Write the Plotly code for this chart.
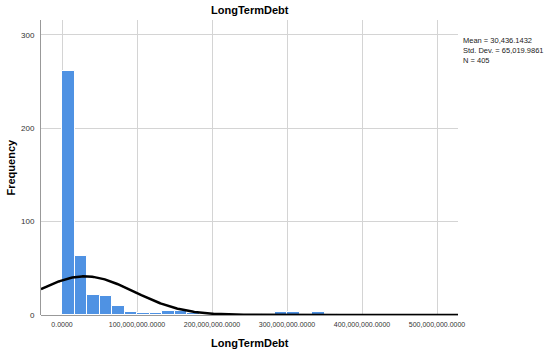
import numpy as np
import plotly.graph_objects as go

# ---- data ----
bin_width = 100_000_000 / 6          # SPSS bin width (~16.67M)
counts = [261, 63, 21, 20, 10, 3, 2, 2, 4, 4, 2, 0, 0, 0, 0, 0, 1, 3, 3, 0, 3, 1]
x_tick_vals = [0, 100_000_000, 200_000_000, 300_000_000, 400_000_000, 500_000_000]
x_tick_text = ["0.0000", "100,000,000.0000", "200,000,000.0000",
               "300,000,000.0000", "400,000,000.0000", "500,000,000.0000"]
y_tick_vals = [0, 100, 200, 300]
mean_val = 30436.1432 * 1000
std_val = 65019.9861 * 1000
n_val = 405
stats_lines = ["Mean = 30,436.1432", "Std. Dev. = 65,019.9861", "N = 405"]
title = "LongTermDebt"

x_range = [-28_000_000, 528_000_000]

centers = [bin_width * (i + 0.5) for i in range(len(counts))]

# normal curve scaled to the histogram (SPSS normal overlay)
xs = np.linspace(x_range[0], x_range[1], 400)
ys = n_val * bin_width / (std_val * np.sqrt(2 * np.pi)) * np.exp(-0.5 * ((xs - mean_val) / std_val) ** 2)

fig = go.Figure()
fig.add_trace(go.Bar(
    x=centers, y=counts, width=bin_width,
    marker=dict(color="#4F92E3", line=dict(color="white", width=1)),
    hoverinfo="skip", showlegend=False,
))
fig.add_trace(go.Scatter(
    x=xs, y=ys, mode="lines", line=dict(color="black", width=2.5),
    hoverinfo="skip", showlegend=False, cliponaxis=True,
))

font = "Liberation Sans, Arial, sans-serif"
fig.update_layout(
    width=550, height=356,
    margin=dict(l=41, r=92, t=20, b=41),
    paper_bgcolor="white", plot_bgcolor="white",
    font=dict(family=font, color="#333333"),
    bargap=0,
    xaxis=dict(
        range=x_range, tickvals=x_tick_vals, ticktext=x_tick_text,
        showgrid=True, gridcolor="#d4d4d4", gridwidth=1,
        showline=False, zeroline=False,
        ticks="outside", ticklen=3, tickcolor="rgba(0,0,0,0)",
        tickfont=dict(size=7, color="#333333", family=font),
    ),
    yaxis=dict(
        range=[0, 315.8], tickvals=y_tick_vals,
        showgrid=True, gridcolor="#d4d4d4", gridwidth=1,
        showline=True, linecolor="#999999", linewidth=1,
        zeroline=True, zerolinecolor="#999999", zerolinewidth=1,
        ticks="outside", ticklen=4, tickcolor="rgba(0,0,0,0)",
        tickfont=dict(size=8, color="#333333", family=font),
    ),
    annotations=[
        dict(text="<b>" + title + "</b>", xref="paper", yref="paper",
             x=0.5, y=1.0, yshift=10, showarrow=False,
             font=dict(size=11, color="black", family=font), yanchor="middle"),
        dict(text="<b>" + title + "</b>", xref="paper", yref="paper",
             x=0.5, y=0, yshift=-28, showarrow=False,
             font=dict(size=11, color="black", family=font), yanchor="middle"),
        dict(text="<b>Frequency</b>", xref="paper", yref="paper",
             x=0, xshift=-31, y=0.5, textangle=-90, showarrow=False,
             font=dict(size=11, color="black", family=font), xanchor="center"),
        dict(text="<br>".join(stats_lines), xref="paper", yref="paper",
             x=1, xshift=3, y=0.953, yanchor="top", xanchor="left", align="left",
             showarrow=False, font=dict(size=7.5, color="#222222", family=font)),
    ],
)

fig.write_html("out.html", config={"displayModeBar": False},
               post_script="document.body.style.margin='0';")
